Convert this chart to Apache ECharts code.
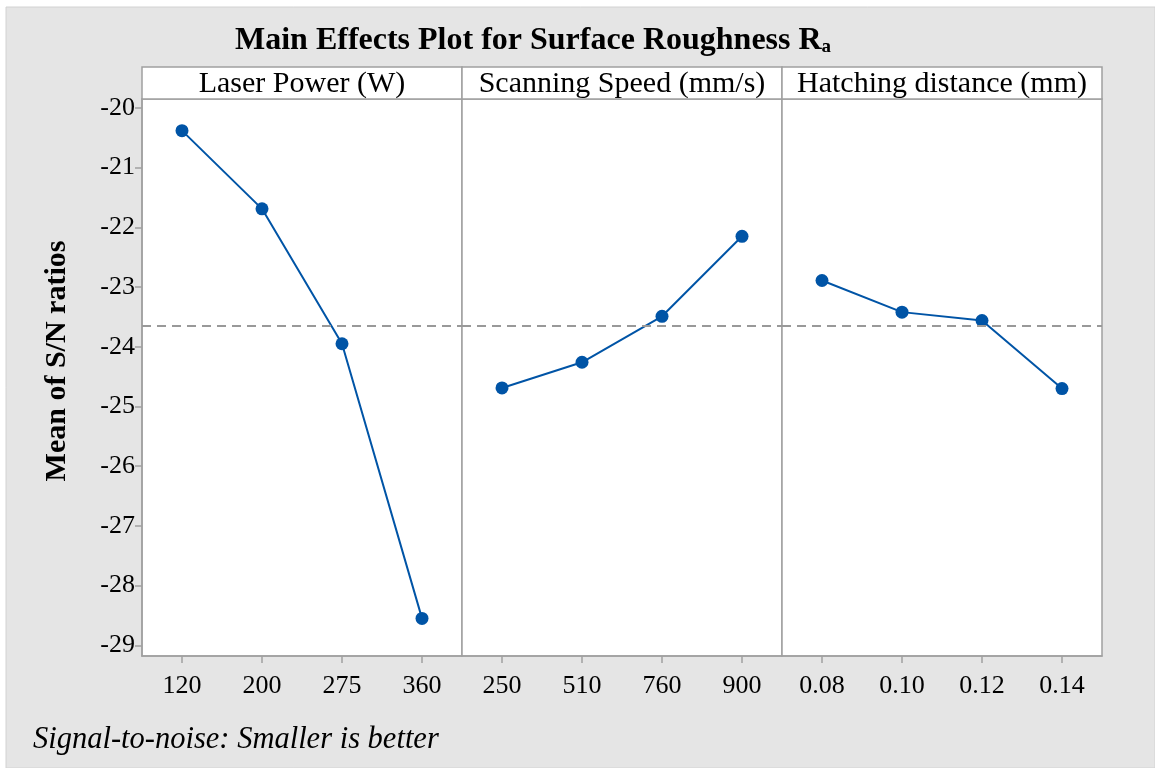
<!DOCTYPE html>
<html>
<head>
<meta charset="utf-8">
<script src="https://cdn.jsdelivr.net/npm/echarts@6/dist/echarts.min.js"></script>
<style>
html,body{margin:0;padding:0;background:#fff;}
#chart{width:1155px;height:768px;}
</style>
</head>
<body>
<div id="chart"></div>
<script>
// ---- data ----
var panelTitles = ['Laser Power (W)', 'Scanning Speed (mm/s)', 'Hatching distance (mm)'];
var laserPowerLevels = ['120', '200', '275', '360'];
var scanSpeedLevels = ['250', '510', '760', '900'];
var hatchLevels = ['0.08', '0.10', '0.12', '0.14'];
var laserPowerSN = [-20.38, -21.69, -23.95, -28.55];
var scanSpeedSN = [-24.69, -24.26, -23.49, -22.15];
var hatchSN = [-22.89, -23.42, -23.56, -24.70];
var meanSN = -23.65;
var yTicks = [-29, -28, -27, -26, -25, -24, -23, -22, -21, -20];
var yMin = -29.18, yMax = -19.85;

var levels = [laserPowerLevels, scanSpeedLevels, hatchLevels];
var values = [laserPowerSN, scanSpeedSN, hatchSN];

// ---- layout ----
var FONT = '"Liberation Serif", "Times New Roman", serif';
var plotLeft = 142, panelW = 320, plotTop = 99, plotH = 557, stripTop = 67, stripH = 32;
var axisColor = '#a0a0a0';
var lineColor = '#0054a6';

var chart = echarts.init(document.getElementById('chart'));

var grids = [], xAxes = [], yAxes = [], series = [], graphics = [];

graphics.push({
  type: 'rect', z: -10, silent: true,
  shape: {x: 6, y: 7, width: 1149, height: 761},
  style: {fill: '#e5e5e5', stroke: '#d2d2d2', lineWidth: 1}
});

for (var i = 0; i < 3; i++) {
  var left = plotLeft + i * panelW;
  grids.push({
    left: left, top: plotTop, width: panelW, height: plotH,
    show: true, backgroundColor: '#ffffff', borderColor: axisColor, borderWidth: 1.5
  });
  xAxes.push({
    type: 'category', gridIndex: i, data: levels[i], boundaryGap: true,
    axisLine: {show: true, lineStyle: {color: axisColor, width: 1.5}},
    axisTick: {show: true, alignWithLabel: true, length: 7, inside: false, lineStyle: {color: axisColor, width: 1.5}},
    axisLabel: {color: '#000', fontFamily: FONT, fontSize: 26, margin: 17},
    splitLine: {show: false}
  });
  yAxes.push({
    type: 'value', gridIndex: i, min: yMin, max: yMax,
    axisLine: {show: i === 0, lineStyle: {color: axisColor, width: 1.5}},
    axisTick: {show: i === 0, customValues: yTicks, length: 7, lineStyle: {color: axisColor, width: 1.5}},
    axisLabel: {show: i === 0, customValues: yTicks, color: '#000', fontFamily: FONT, fontSize: 26, margin: 7,
      formatter: function (v) { return String(Math.round(v)); }},
    splitLine: {show: false}
  });
  series.push({
    type: 'line', xAxisIndex: i, yAxisIndex: i, data: values[i],
    symbol: 'circle', symbolSize: 13,
    lineStyle: {color: lineColor, width: 2},
    itemStyle: {color: lineColor},
    animation: false,
    markLine: {
      silent: true, symbol: 'none', label: {show: false},
      lineStyle: {color: '#999999', type: [9, 6], width: 2},
      data: [{yAxis: meanSN}]
    }
  });
  graphics.push({
    type: 'rect', silent: true,
    shape: {x: left, y: stripTop, width: panelW, height: stripH},
    style: {fill: '#ffffff', stroke: axisColor, lineWidth: 1.5}
  });
  graphics.push({
    type: 'text', silent: true,
    x: left + panelW / 2, y: stripTop + stripH / 2 + 1,
    style: {text: panelTitles[i], fill: '#000', font: '30px ' + FONT, align: 'center', verticalAlign: 'middle'}
  });
}

// y-axis title
graphics.push({
  type: 'text', silent: true, x: 57, y: 361, rotation: Math.PI / 2,
  style: {text: 'Mean of S/N ratios', fill: '#000', font: 'bold 30px ' + FONT, align: 'center', verticalAlign: 'middle'}
});

graphics.push({
  type: 'text', silent: true, left: 33, top: 725,
  style: {text: 'Signal-to-noise: Smaller is better', fill: '#000', font: 'italic 30.5px ' + FONT}
});

var option = {
  backgroundColor: '#ffffff',
  animation: false,
  title: {
    text: 'Main Effects Plot for Surface Roughness R{sub|a}',
    left: 230, top: 19,
    textStyle: {
      color: '#000', fontFamily: FONT, fontSize: 32, fontWeight: 'bold',
      rich: {sub: {fontFamily: FONT, fontSize: 19, fontWeight: 'bold', color: '#000', verticalAlign: 'bottom', padding: [14, 0, 0, 0]}}
    }
  },
  grid: grids,
  xAxis: xAxes,
  yAxis: yAxes,
  series: series,
  graphic: graphics
};
chart.setOption(option);
</script>
</body>
</html>
